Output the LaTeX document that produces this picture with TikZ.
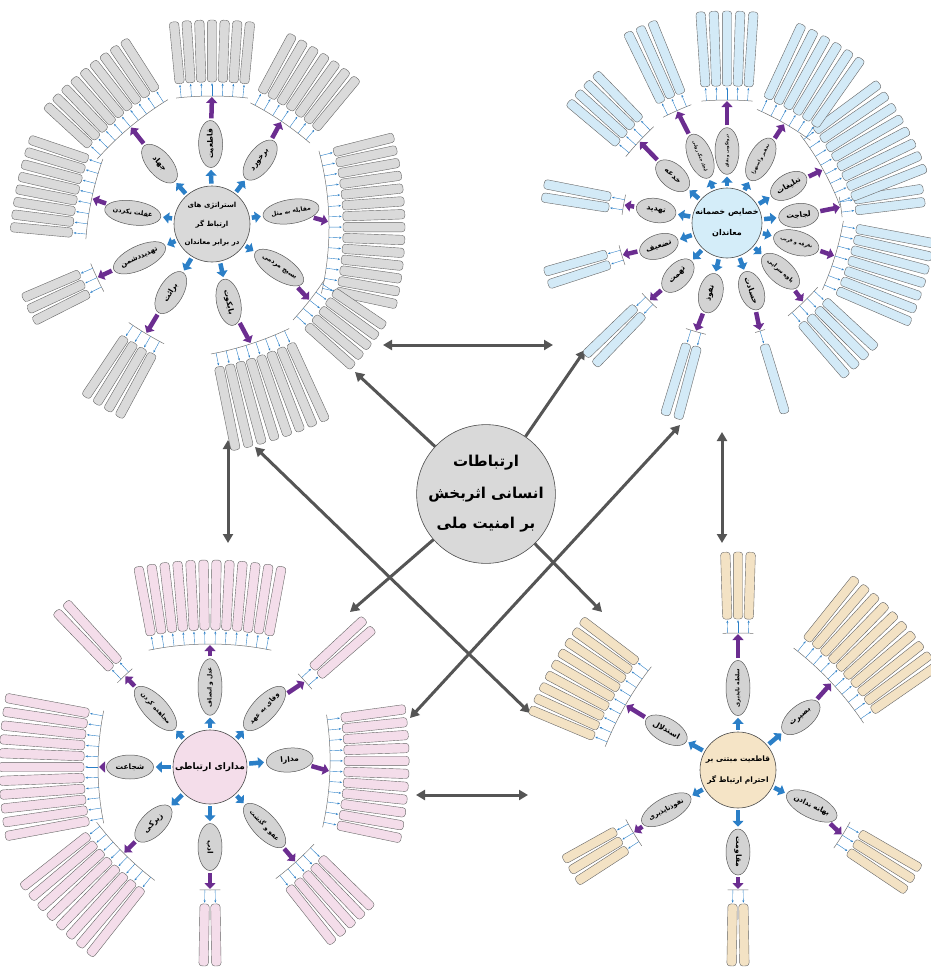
\documentclass[tikz,border=0pt]{standalone}
\usepackage{amsmath, amssymb}
\usepackage{graphicx}
\usepackage{fontspec}
\usepackage{tikz}
\usetikzlibrary{arrows.meta, shapes.geometric}
\TeXXeTstate=1
\newfontfamily\fafont[Script=Arabic]{DejaVu Sans}

\definecolor{tlhubfill}{HTML}{D9D9D9}
\definecolor{tlboxfill}{HTML}{DADADA}
\definecolor{trhubfill}{HTML}{D4EDF9}
\definecolor{trboxfill}{HTML}{D3EAF7}
\definecolor{blhubfill}{HTML}{F4DDEA}
\definecolor{blboxfill}{HTML}{F4DDEA}
\definecolor{brhubfill}{HTML}{F5E4C6}
\definecolor{brboxfill}{HTML}{F3E2C4}
\definecolor{ellfill}{HTML}{D3D3D3}
\definecolor{arrblue}{HTML}{2B7FC7}
\definecolor{arrpurple}{HTML}{6B2D90}
\definecolor{linkgrey}{HTML}{555555}

\tikzset{
	bluearr/.style={draw=arrblue, line width=4.5pt, -{Triangle[length=6pt,width=11pt]}, shorten <=2pt, shorten >=2pt},
	purparr/.style={draw=arrpurple, line width=4.5pt, -{Triangle[length=6pt,width=11pt]}, shorten <=2pt, shorten >=1pt},
	spokeell/.style={ellipse, draw=black!65, line width=0.5pt, fill=ellfill, minimum width=\ellw, minimum height=24pt, inner sep=0pt},
	fanbox/.style={rectangle, rounded corners=3pt, draw=black!60, line width=0.4pt, fill=\boxcol, inner sep=0pt, minimum height=9.4pt},
	fanarc/.style={draw=black!55, line width=0.5pt},
	fanarr/.style={draw=arrblue, line width=0.4pt, -{Stealth[length=2.5pt,width=2pt]}, shorten >=1pt},
	hubnode/.style={circle, draw=black!70, line width=0.6pt, align=center, inner sep=0pt},
	biglink/.style={draw=linkgrey, line width=3pt, {Triangle[length=9pt,width=10pt]}-{Triangle[length=9pt,width=10pt]}},
	hublink/.style={draw=linkgrey, line width=3pt, -{Triangle[length=9pt,width=10pt]}},
}

\newsavebox\lblbox
\newcommand{\fitlabel}[1]{\sbox\lblbox{\fafont\bfseries\fontsize{7.5}{8}\selectfont #1}\ifdim\wd\lblbox>\lblmax\resizebox{\lblmax}{!}{\usebox\lblbox}\else\usebox\lblbox\fi}

\newcommand{\spoke}[7]{%
	\pgfmathsetmacro{\txtrot}{cos(#1)<-0.02 ? #1+180 : #1}%
	\node[spokeell, rotate=\txtrot] (#7) at (#1:\elld) {\fitlabel{#2}};%
	\draw[bluearr] (\hubname) -- (#7);%
	\pgfmathsetmacro{\fanrho}{2.5*#5}%
	\pgfmathsetmacro{\fandelta}{590/\fanrho}%
	\pgfmathsetmacro{\fanmid}{(#3+1)/2}%
	\pgfmathsetmacro{\fanfrom}{#4-#3/2*\fandelta}%
	\pgfmathsetmacro{\fanto}{#4+#3/2*\fandelta}%
	\coordinate (#7-a) at (#4:#5);%
	\draw[purparr] (#7) -- (#7-a);%
	\begin{scope}[shift={(#4:#5-\fanrho)}]%
		\draw[fanarc] (\fanfrom:\fanrho) arc[start angle=\fanfrom, end angle=\fanto, radius=\fanrho];%
		\foreach \k in {1,...,#3}{%
			\pgfmathsetmacro{\fanphi}{#4+(\k-\fanmid)*\fandelta}%
			\coordinate (#7-t\k) at (\fanphi:\fanrho);%
			\node[fanbox, minimum width=#6, rotate=\fanphi] (#7-\k) at (\fanphi:\fanrho+14+#6/2) {};%
			\draw[fanarr] (#7-t\k) -- (#7-\k);%
		}%
	\end{scope}%
}

\begin{document}
\begin{tikzpicture}[x=1pt, y=1pt]
	\useasboundingbox (0,0) rectangle (931,-970);

	\coordinate (topl) at (383,-345);
	\coordinate (topr) at (553,-345);
	\coordinate (botl) at (416,-795);
	\coordinate (botr) at (528,-795);
	\coordinate (lefu) at (228,-440);
	\coordinate (lefd) at (228,-543);
	\coordinate (rigu) at (722,-432);
	\coordinate (rigd) at (722,-543);
	\coordinate (diaa) at (255,-447);
	\coordinate (diab) at (530,-713);
	\coordinate (diac) at (680,-425);
	\coordinate (diad) at (410,-718);
	\coordinate (outa) at (355,-372);
	\coordinate (outb) at (585,-350);
	\coordinate (outc) at (350,-612);
	\coordinate (outd) at (602,-612);
	\draw[biglink] (topl) -- (topr);
	\draw[biglink] (botl) -- (botr);
	\draw[biglink] (lefu) -- (lefd);
	\draw[biglink] (rigu) -- (rigd);
	\draw[biglink] (diaa) -- (diab);
	\draw[biglink] (diac) -- (diad);
	\node[hubnode, fill=tlhubfill, minimum size=134pt, font=\fafont\bfseries\fontsize{15}{17}\selectfont] (core) at (486,-494) {\beginR ارتباطات\endR\\[15pt]\beginR انسانی اثربخش\endR\\[13pt]\beginR بر امنیت ملی\endR};
	\draw[hublink] (core) -- (outa);
	\draw[hublink] (core) -- (outb);
	\draw[hublink] (core) -- (outc);
	\draw[hublink] (core) -- (outd);

	\begin{scope}[shift={(212,-224)}]
		\def\hubname{tlhub}\def\elld{80}\def\boxcol{tlboxfill}\def\ellw{47pt}\def\lblmax{40pt}
		\node[hubnode, fill=tlhubfill, minimum size=76pt, font=\fafont\bfseries\fontsize{7}{8}\selectfont] (tlhub) at (0,0) {\beginR استراتژی های\endR\\[10pt]\beginR ارتباط گر\endR\\[10pt]\beginR در برابر معاندان\endR};
		\spoke{91}{قاطعیت}{7}{90}{128}{62}{tl1}
		\spoke{53}{برخورد}{7}{56}{124}{66}{tl2}
		\spoke{9}{\beginR مقابله به مثل\endR}{14}{1}{117}{62}{tl3}
		\spoke{-33}{\beginR بسیج مردمی\endR}{5}{-38}{124}{62}{tl4}
		\spoke{-78}{بایکوت}{8}{-72}{126}{85}{tl5}
		\spoke{-121}{برائت}{4}{-121}{128}{72}{tl6}
		\spoke{-155}{تهدیددشمن}{3}{-155}{127}{62}{tl7}
		\spoke{172}{\beginR غفلت نکردن\endR}{8}{168}{123}{62}{tl8}
		\spoke{131}{جهاد}{9}{130}{127}{60}{tl9}
	\end{scope}

	\begin{scope}[shift={(727,-223)}]
		\def\hubname{trhub}\def\elld{72}\def\boxcol{trboxfill}\def\ellw{40pt}\def\lblmax{33pt}
		\node[hubnode, fill=trhubfill, minimum size=70pt, font=\fafont\bfseries\fontsize{8}{9}\selectfont] (trhub) at (0,0) {\beginR خصایص خصمانه\endR\\[12pt]\beginR معاندان\endR};
		\spoke{170}{تهدید}{2}{170}{105}{68}{tr1}
		\spoke{-161}{تضعیف}{2}{-163}{110}{65}{tr2}
		\spoke{-133}{تهمت}{2}{-135}{110}{70}{tr3}
		\spoke{-103}{نفوذ}{2}{-106}{113}{75}{tr4}
		\spoke{-70}{حسادت}{1}{-73}{113}{72}{tr5}
		\spoke{-42}{\beginR یاوه سرایی\endR}{4}{-46}{110}{70}{tr6}
		\spoke{-16}{\beginR تفرقه و فریب\endR}{7}{-17}{113}{80}{tr7}
		\spoke{6}{لجاجت}{2}{8}{115}{70}{tr8}
		\spoke{31}{تبلیغات}{8}{29}{110}{80}{tr9}
		\spoke{62}{\beginR تحقیر و استهزا\endR}{6}{60}{115}{82}{tr10}
		\spoke{90}{\beginR دروغگویی و نفاق\endR}{5}{90}{123}{75}{tr11}
		\spoke{112}{\beginR ایجاد جنگ روانی\endR}{3}{114}{123}{78}{tr12}
		\spoke{139}{خدعه}{4}{137}{120}{65}{tr13}
	\end{scope}

	\begin{scope}[shift={(210,-767)}]
		\def\hubname{blhub}\def\elld{80}\def\boxcol{blboxfill}\def\ellw{47pt}\def\lblmax{40pt}
		\node[hubnode, fill=blhubfill, minimum size=74pt, font=\fafont\bfseries\fontsize{9}{10}\selectfont] (blhub) at (0,0) {\beginR مدارای ارتباطی\endR};
		\spoke{90}{\beginR عدل و انصاف\endR}{12}{90}{123}{70}{bl1}
		\spoke{47}{\beginR وفای به عهد\endR}{2}{42}{128}{72}{bl2}
		\spoke{5}{مدارا}{11}{-2}{120}{65}{bl3}
		\spoke{-47}{\beginR عفو و گذشت\endR}{5}{-48}{128}{72}{bl4}
		\spoke{-90}{ادب}{2}{-90}{123}{62}{bl5}
		\spoke{-135}{زیرکی}{8}{-135}{122}{85}{bl6}
		\spoke{180}{شجاعت}{11}{180}{112}{85}{bl7}
		\spoke{133}{\beginR مجاهده کردن\endR}{2}{133}{125}{80}{bl8}
	\end{scope}

	\begin{scope}[shift={(738,-770)}]
		\def\hubname{brhub}\def\elld{82}\def\boxcol{brboxfill}\def\ellw{46pt}\def\lblmax{39pt}
		\node[hubnode, fill=brhubfill, minimum size=76pt, font=\fafont\bfseries\fontsize{7.5}{8.5}\selectfont] (brhub) at (0,0) {\beginR قاطعیت مبتنی بر\endR\\[11pt]\beginR احترام ارتباط گر\endR};
		\spoke{90}{\beginR سلطه ناپذیری\endR}{3}{90}{137}{67}{br1}
		\spoke{40}{بصیرت}{10}{43}{128}{80}{br2}
		\spoke{-26}{\beginR بهانه ندادن\endR}{3}{-32}{123}{70}{br3}
		\spoke{-90}{مقاومت}{2}{-90}{120}{62}{br4}
		\spoke{-151}{نفوذناپذیری}{3}{-149}{122}{60}{br5}
		\spoke{151}{استدلال}{9}{150}{130}{70}{br6}
	\end{scope}
\end{tikzpicture}
\end{document}
